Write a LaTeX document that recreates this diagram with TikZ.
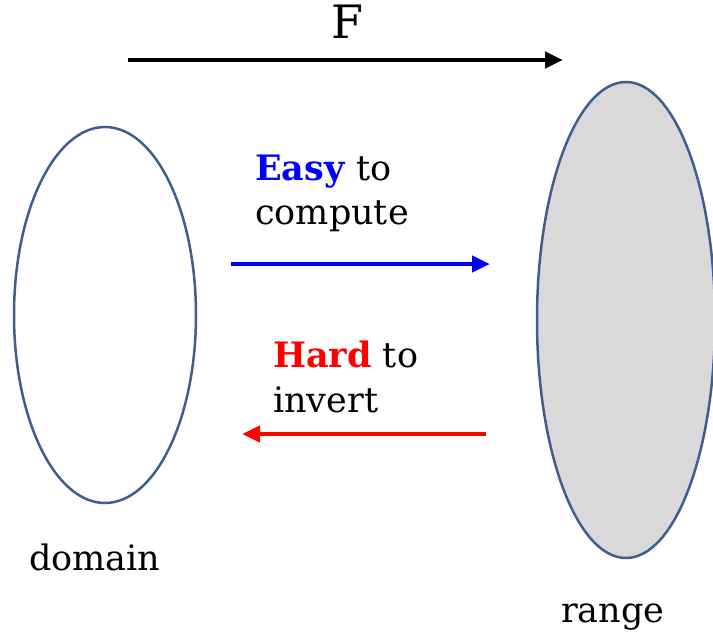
\documentclass[tikz,border=0pt]{standalone}
\usepackage{fontspec}
\setmainfont{DejaVu Serif}
\usetikzlibrary{arrows.meta,shapes.geometric}
\definecolor{edgeblue}{HTML}{3D5F8F}
\definecolor{setgray}{HTML}{D9D9D9}
\tikzset{
  setshape/.style={ellipse, draw=edgeblue, line width=2.5pt, inner sep=0pt},
  maparrow/.style={line width=4.5pt, -{Triangle[length=18pt,width=16pt]}},
  lbl/.style={font=\fontsize{35}{44}\selectfont, inner sep=0pt, align=left},
}
\begin{document}
\begin{tikzpicture}[x=1pt,y=-1pt]
\useasboundingbox (0,0) rectangle (713,637);
% sets
\node[setshape, minimum width=182pt, minimum height=376pt] (dom) at (105,315) {};
\node[setshape, fill=setgray, minimum width=178pt, minimum height=476pt] (ran) at (626,320) {};
% labels of sets
\node[lbl, anchor=base west] (domlbl) at (29,570) {domain};
\node[lbl, anchor=base west] (ranlbl) at (561,622) {range};
% F arrow
\coordinate (fs) at (128,60);
\coordinate (fe) at (563,60);
\draw[maparrow, black] (fs) -- (fe);
\node[font=\fontsize{46}{46}\selectfont, inner sep=0pt, anchor=base] (F) at (347,38) {F};
% easy
\coordinate (es) at (231,264);
\coordinate (ee) at (490,264);
\draw[maparrow, blue] (es) -- (ee);
\node[lbl, anchor=base west] (easy) at (255,180) {\textcolor{blue}{\textbf{Easy}} to};
\node[lbl, anchor=base west] (comp) at (255,224) {compute};
% hard
\coordinate (hs) at (486,434);
\coordinate (he) at (242,434);
\draw[maparrow, red] (hs) -- (he);
\node[lbl, anchor=base west] (hard) at (273,367) {\textcolor{red}{\textbf{Hard}} to};
\node[lbl, anchor=base west] (inv) at (273,412) {invert};
\end{tikzpicture}
\end{document}
